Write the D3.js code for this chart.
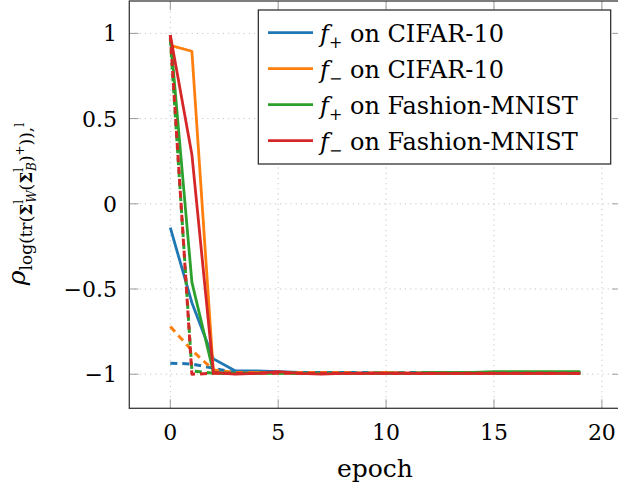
<!DOCTYPE html>
<html>
<head>
<meta charset="utf-8">
<script src="https://cdn.jsdelivr.net/npm/d3@7"></script>
<style>
  body { margin: 0; background: #fff; }
  svg { font-family: "DejaVu Serif", serif; }
</style>
</head>
<body>
<div class="chart"></div>
<script>
// epochs 0..19
const epochs = d3.range(0, 20);

// solid lines
const plusCifar = [-0.14, -0.58, -0.91, -0.98, -0.98, -0.985, -0.99, -0.99, -0.99, -0.995, -0.99, -0.995, -0.995, -0.995, -0.995, -0.995, -0.995, -0.99, -0.99, -0.99];
const minusCifar = [0.93, 0.895, -0.995, -0.995, -0.99, -0.99, -0.995, -0.995, -0.995, -0.995, -0.99, -0.995, -0.995, -0.995, -0.995, -0.995, -0.995, -0.995, -0.995, -0.995];
const plusFashion = [0.99, -0.46, -0.99, -0.995, -0.995, -0.99, -0.995, -0.995, -0.995, -0.995, -0.995, -0.995, -0.99, -0.99, -0.99, -0.985, -0.985, -0.985, -0.985, -0.985];
const minusFashion = [0.99, 0.29, -0.99, -1.0, -0.995, -0.985, -0.995, -1.0, -0.995, -0.995, -0.995, -0.995, -0.995, -0.995, -0.995, -0.995, -0.995, -0.995, -0.995, -0.995];

// dashed lines
const plusCifarDash = [-0.935, -0.94, -0.965, -0.99, -0.99, -0.99, -0.99, -0.99, -0.99, -0.99, -0.99, -0.99, -0.99, -0.99, -0.99, -0.99, -0.99, -0.99, -0.99, -0.99];
const minusCifarDash = [-0.72, -0.86, -0.975, -0.99, -0.99, -0.99, -0.99, -0.99, -0.99, -0.995, -0.995, -0.995, -0.995, -0.995, -0.995, -0.995, -0.995, -0.995, -0.995, -0.995];
const plusFashionDash = [0.97, -0.98, -0.995, -0.995, -0.995, -0.995, -0.995, -0.995, -0.995, -0.995, -0.995, -0.995, -0.995, -0.995, -0.995, -0.995, -0.995, -0.995, -0.995, -0.995];
const minusFashionDash = [0.99, -1.0, -0.995, -0.995, -0.995, -0.995, -0.995, -0.995, -0.995, -0.995, -0.995, -0.995, -0.995, -0.995, -0.995, -0.995, -0.995, -0.995, -0.995, -0.995];

const xTicks = [0, 5, 10, 15, 20];
const yTicks = [-1, -0.5, 0, 0.5, 1];

const colors = ['#1f77b4', '#ff7f0e', '#2ca02c', '#d62728'];
const legendSigns = ['+', '\u2212', '+', '\u2212'];
const legendNames = ['on CIFAR-10', 'on CIFAR-10', 'on Fashion-MNIST', 'on Fashion-MNIST'];

const series = [
    { values: plusCifar, color: colors[0], dash: null },
    { values: plusCifarDash, color: colors[0], dash: '7,5' },
    { values: minusCifar, color: colors[1], dash: null },
    { values: minusCifarDash, color: colors[1], dash: '7,5' },
    { values: plusFashion, color: colors[2], dash: null },
    { values: plusFashionDash, color: colors[2], dash: '7,5' },
    { values: minusFashion, color: colors[3], dash: null },
    { values: minusFashionDash, color: colors[3], dash: '7,5' }
];

const width = 618;
const height = 490;

const svg = d3.select('.chart')
    .append('svg')
    .attr('width', width)
    .attr('height', height)

const x = d3.scaleLinear().domain([-1.9, 20.9]).range([129.3, 621.3])
const y = d3.scaleLinear().domain([-1.2, 1.19]).range([408.3, 1])

const plotLeft = x.range()[0], plotRight = x.range()[1]
const plotTop = y.range()[1], plotBottom = y.range()[0]

// grid
svg.selectAll('.xgrid')
    .data(xTicks)
    .enter()
    .append('line')
    .attr('x1', d => x(d)).attr('x2', d => x(d))
    .attr('y1', plotTop).attr('y2', plotBottom)
    .attr('stroke', '#c4c4c4')
    .attr('stroke-dasharray', '1.2,4')

svg.selectAll('.ygrid')
    .data(yTicks)
    .enter()
    .append('line')
    .attr('x1', plotLeft).attr('x2', plotRight)
    .attr('y1', d => y(d)).attr('y2', d => y(d))
    .attr('stroke', '#c4c4c4')
    .attr('stroke-dasharray', '1.2,4')

// ticks inside on all sides
const tickLen = 9;
const ticks = svg.append('g').attr('stroke', '#9a9a9a').attr('stroke-width', 1)
xTicks.forEach(t => {
    ticks.append('line').attr('x1', x(t)).attr('x2', x(t)).attr('y1', plotBottom).attr('y2', plotBottom - tickLen)
    ticks.append('line').attr('x1', x(t)).attr('x2', x(t)).attr('y1', plotTop).attr('y2', plotTop + tickLen)
})
yTicks.forEach(t => {
    ticks.append('line').attr('x1', plotLeft).attr('x2', plotLeft + tickLen).attr('y1', y(t)).attr('y2', y(t))
    ticks.append('line').attr('x1', plotRight).attr('x2', plotRight - tickLen).attr('y1', y(t)).attr('y2', y(t))
})

// lines
const line = d3.line()
    .x((d, i) => x(epochs[i]))
    .y(d => y(d))

series.forEach(s => {
    svg.append('path')
        .datum(s.values)
        .attr('d', line)
        .attr('fill', 'none')
        .attr('stroke', s.color)
        .attr('stroke-width', s.dash ? 3 : 2.8)
        .attr('stroke-linejoin', 'round')
        .attr('stroke-dasharray', s.dash)
})

// frame
svg.append('rect')
    .attr('x', plotLeft).attr('y', plotTop)
    .attr('width', plotRight - plotLeft).attr('height', plotBottom - plotTop)
    .attr('fill', 'none')
    .attr('stroke', '#3a3a3a')
    .attr('stroke-width', 1.3)

// tick labels
svg.selectAll('.xlabel')
    .data(xTicks)
    .enter()
    .append('text')
    .attr('x', d => x(d))
    .attr('y', 440)
    .attr('text-anchor', 'middle')
    .attr('font-size', 22)
    .text(d => d3.format('')(d))

svg.selectAll('.ylabel')
    .data(yTicks)
    .enter()
    .append('text')
    .attr('x', 117)
    .attr('y', d => y(d) + 8)
    .attr('text-anchor', 'end')
    .attr('font-size', 22)
    .text(d => d3.format('')(d))

// axis titles
svg.append('text')
    .attr('x', 375)
    .attr('y', 477)
    .attr('text-anchor', 'middle')
    .attr('font-size', 25)
    .text('epoch')

const ylab = svg.append('text')
    .attr('transform', 'translate(25,204) rotate(-90)')
    .attr('text-anchor', 'middle')
    .attr('font-size', 25)
ylab.append('tspan').attr('font-style', 'italic').text('\u03C1')
ylab.append('tspan').attr('font-size', 17).attr('dy', 7).text('log(tr(')
ylab.append('tspan').attr('font-size', 17).attr('font-weight', 'bold').text('\u03A3')
ylab.append('tspan').attr('font-size', 12).attr('dy', -9).text('l')
ylab.append('tspan').attr('font-size', 12).attr('font-style', 'italic').attr('dx', -3).attr('dy', 13).text('W')
ylab.append('tspan').attr('font-size', 17).attr('dy', -4).text('(')
ylab.append('tspan').attr('font-size', 17).attr('font-weight', 'bold').text('\u03A3')
ylab.append('tspan').attr('font-size', 12).attr('dy', -9).text('l')
ylab.append('tspan').attr('font-size', 12).attr('font-style', 'italic').attr('dx', -3).attr('dy', 13).text('B')
ylab.append('tspan').attr('font-size', 17).attr('dy', -4).text(')')
ylab.append('tspan').attr('font-size', 12).attr('dy', -8).text('+')
ylab.append('tspan').attr('font-size', 17).attr('dy', 8).text(')),')
ylab.append('tspan').attr('font-size', 12).attr('dy', -8).text('l')

// legend
const legend = svg.append('g')
legend.append('rect')
    .attr('x', 258.3).attr('y', 10)
    .attr('width', 352.4).attr('height', 154)
    .attr('fill', '#fff')
    .attr('stroke', '#222')
    .attr('stroke-width', 1.2)

legendNames.forEach((name, i) => {
    const cy = 32.7 + i * 36
    legend.append('line')
        .attr('x1', 268).attr('x2', 313)
        .attr('y1', cy).attr('y2', cy)
        .attr('stroke', colors[i])
        .attr('stroke-width', 2.8)
    const t = legend.append('text')
        .attr('x', 320)
        .attr('y', cy + 9)
        .attr('font-size', 24)
    t.append('tspan').attr('font-style', 'italic').text('f')
    t.append('tspan').attr('font-size', 16).attr('dy', 6).text(legendSigns[i])
    t.append('tspan').attr('dy', -6).text(' ' + name)
})
</script>
</body>
</html>
